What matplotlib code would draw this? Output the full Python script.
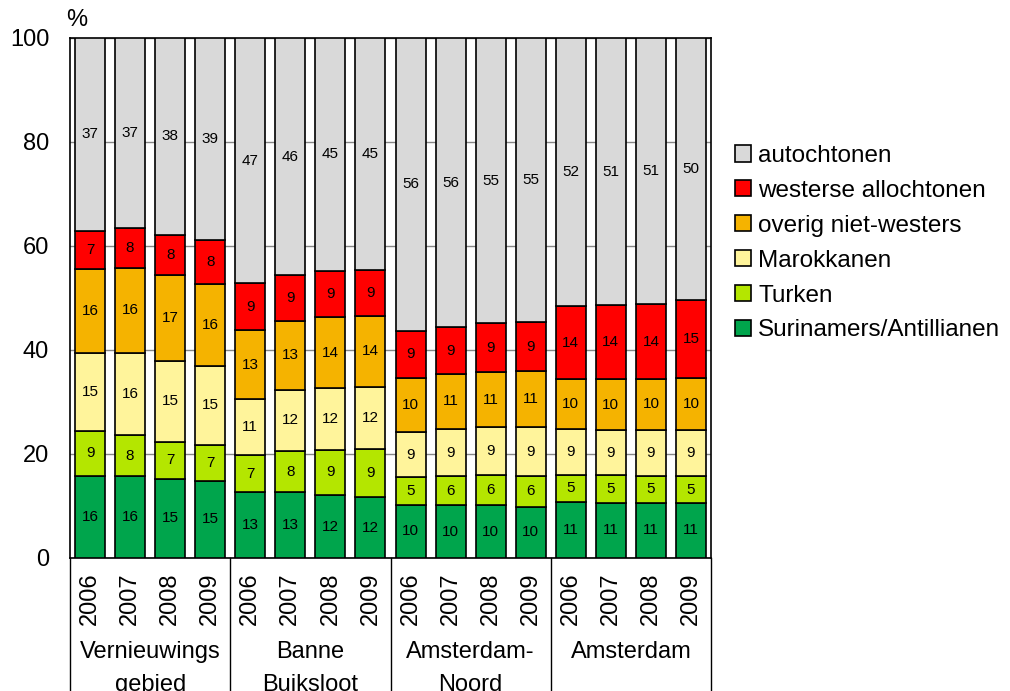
import matplotlib
matplotlib.use("Agg")
import matplotlib.pyplot as plt
import numpy as np

plt.rcParams['font.family'] = ['Liberation Sans', 'DejaVu Sans']

# data (percentages)
years = ['2006', '2007', '2008', '2009']
groups = ['Vernieuwings\ngebied', 'Banne\nBuiksloot', 'Amsterdam-\nNoord', 'Amsterdam']

surinamers = [15.8, 15.8, 15.2, 14.9, 12.6, 12.6, 12.1, 11.7, 10.2, 10.1, 10.1, 9.9, 10.8, 10.6, 10.6, 10.6]
turken = [8.6, 7.8, 7.2, 6.9, 7.3, 8.0, 8.7, 9.3, 5.4, 5.6, 5.8, 5.9, 5.2, 5.3, 5.2, 5.1]
marokkanen = [15.0, 15.9, 15.4, 15.2, 10.6, 11.8, 11.9, 11.9, 8.6, 9.1, 9.2, 9.3, 8.8, 8.7, 8.9, 9.0]
overig = [16.2, 16.3, 16.7, 15.7, 13.4, 13.2, 13.6, 13.7, 10.4, 10.6, 10.7, 10.9, 9.6, 9.8, 9.7, 9.9]
westers = [7.3, 7.6, 7.7, 8.4, 8.9, 8.8, 8.9, 8.8, 9.1, 9.0, 9.3, 9.3, 14.0, 14.2, 14.4, 15.0]
autochtonen = [37.1, 36.6, 37.8, 38.9, 47.2, 45.6, 44.8, 44.6, 56.3, 55.6, 54.9, 54.7, 51.6, 51.4, 51.2, 50.4]

series = [
    ('Surinamers/Antillianen', surinamers, '#00A54C'),
    ('Turken', turken, '#B4E600'),
    ('Marokkanen', marokkanen, '#FFF49B'),
    ('overig niet-westers', overig, '#F5B300'),
    ('westerse allochtonen', westers, '#FF0000'),
    ('autochtonen', autochtonen, '#D9D9D9'),
]

fig = plt.figure(figsize=(10.10, 6.91), dpi=100)
ax = fig.add_axes([70 / 1010, 1 - 558 / 691, 641 / 1010, 520 / 691])

x = np.arange(16)
bottom = np.zeros(16)
handles = []
for name, vals, col in series:
    vals = np.array(vals)
    b = ax.bar(x, vals, 0.75, bottom=bottom, color=col, edgecolor='black', linewidth=1.2, label=name, zorder=3)
    handles.append(b)
    for xi, v, bt in zip(x, vals, bottom):
        ax.text(xi, bt + v / 2, f"{v:.0f}", ha='center', va='center', fontsize=11, zorder=4)
    bottom += vals

ax.set_xlim(-0.5, 15.5)
ax.set_ylim(0, 100)
ax.set_yticks(range(0, 101, 20))
ax.tick_params(axis='y', labelsize=17, length=0, pad=15)
ax.set_xticks([])
ax.grid(axis='y', color='#868686', linewidth=1, zorder=0)
ax.set_axisbelow(True)
for s in ax.spines.values():
    s.set_color('black')
    s.set_linewidth(1.2)

trans = ax.get_xaxis_transform()
for i in range(16):
    ax.text(i, -0.079, years[i % 4], rotation=90, ha='center', va='center', fontsize=17, transform=trans)
for g, name in enumerate(groups):
    ax.text(4 * g + 1.5, -0.16, name, ha='center', va='top', fontsize=17, linespacing=1.62, transform=trans)
for xb in [-0.5, 3.5, 7.5, 11.5, 15.5]:
    ax.plot([xb, xb], [0, -0.3], color='black', linewidth=1, transform=trans, clip_on=False)

fig.text(77 / 1010, 1 - 20 / 691, '%', ha='center', va='center', fontsize=17)

leg = ax.legend(handles[::-1], [s[0] for s in series][::-1], loc='upper left',
                bbox_to_anchor=(735 / 1010, 1 - 145 / 691), bbox_transform=fig.transFigure,
                frameon=False, fontsize=17.5, handlelength=0.65, handleheight=0.65,
                handletextpad=0.3, labelspacing=0.53, borderpad=0, borderaxespad=0)

fig.savefig('out.png', dpi=100)
